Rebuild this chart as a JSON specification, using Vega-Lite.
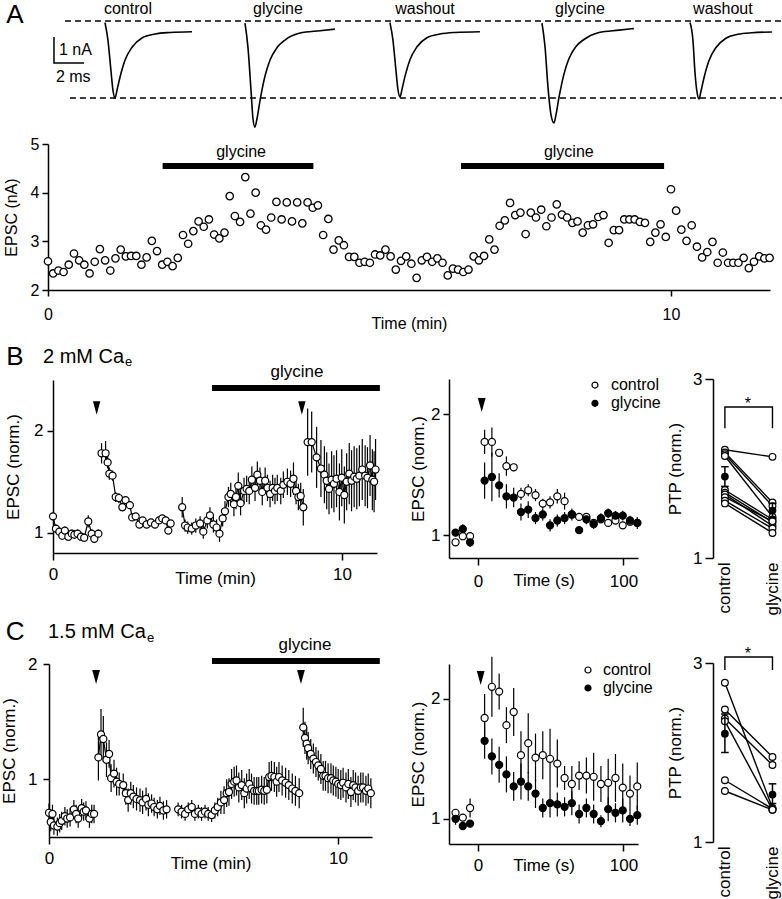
{
"$schema":"https://vega.github.io/schema/vega-lite/v6.json",
"width":782,"height":899,"autosize":{"type":"none"},"padding":0,"background":"white",
"config":{"view":{"stroke":null},"font":"Liberation Sans",
"axis":{"labelFont":"Liberation Sans","titleFont":"Liberation Sans","labelFontSize":17,"titleFontSize":17,"titleFontWeight":"normal","labelColor":"black","titleColor":"black","domainColor":"black","tickColor":"black","domainWidth":1.5,"tickWidth":1.5,"tickSize":6,"labelPadding":3,"grid":false,"labelFlush":false,"labelOverlap":false},
"text":{"font":"Liberation Sans","color":"black"}},
"resolve":{"scale":{"x":"independent","y":"independent","fill":"independent"},"axis":{"x":"independent","y":"independent"}},
"layer":[
{"layer":[
 {"data":{"values":[{"k":"a","x":4.32,"y":0},{"k":"a","x":52,"y":0},{"k":"b","x":4.65,"y":-2.96},{"k":"b","x":52,"y":-2.96}]},
  "mark":{"type":"line","color":"black","strokeWidth":1.5,"strokeDash":[6,4]},
  "encoding":{"x":{"field":"x","type":"quantitative","scale":{"domain":[0,52],"range":[0,782],"nice":false,"zero":false},"axis":null},"y":{"field":"y","type":"quantitative","scale":{"domain":[-4.73,0.81],"range":[144,0],"nice":false,"zero":false},"axis":null},"detail":{"field":"k"}}},
 {"data":{"values":[
  {"tr":"c1","x":6.98,"y":-0.06},{"tr":"c1","x":7.18,"y":-0.74},{"tr":"c1","x":7.38,"y":-1.92},{"tr":"c1","x":7.51,"y":-2.66},{"tr":"c1","x":7.65,"y":-2.96},{"tr":"c1","x":7.78,"y":-2.66},{"tr":"c1","x":7.98,"y":-2.16},{"tr":"c1","x":8.31,"y":-1.51},{"tr":"c1","x":8.78,"y":-1.01},{"tr":"c1","x":9.44,"y":-0.65},{"tr":"c1","x":10.31,"y":-0.5},{"tr":"c1","x":11.3,"y":-0.44},{"tr":"c1","x":12.77,"y":-0.41},
  {"tr":"g1","x":16.29,"y":-0.08},{"tr":"g1","x":16.49,"y":-1.02},{"tr":"g1","x":16.69,"y":-2.65},{"tr":"g1","x":16.82,"y":-3.75},{"tr":"g1","x":16.95,"y":-4.08},{"tr":"g1","x":17.09,"y":-3.75},{"tr":"g1","x":17.29,"y":-3.06},{"tr":"g1","x":17.62,"y":-2.12},{"tr":"g1","x":17.95,"y":-1.51},{"tr":"g1","x":18.42,"y":-1.02},{"tr":"g1","x":18.95,"y":-0.73},{"tr":"g1","x":19.95,"y":-0.46},{"tr":"g1","x":21.28,"y":-0.37},{"tr":"g1","x":22.27,"y":-0.31},
  {"tr":"w1","x":25.93,"y":-0.06},{"tr":"w1","x":26.13,"y":-0.73},{"tr":"w1","x":26.33,"y":-1.9},{"tr":"w1","x":26.46,"y":-2.63},{"tr":"w1","x":26.6,"y":-2.92},{"tr":"w1","x":26.73,"y":-2.63},{"tr":"w1","x":26.93,"y":-2.13},{"tr":"w1","x":27.26,"y":-1.49},{"tr":"w1","x":27.73,"y":-0.99},{"tr":"w1","x":28.39,"y":-0.64},{"tr":"w1","x":29.26,"y":-0.5},{"tr":"w1","x":30.25,"y":-0.44},{"tr":"w1","x":31.91,"y":-0.41},
  {"tr":"g2","x":36.04,"y":-0.08},{"tr":"g2","x":36.24,"y":-0.98},{"tr":"g2","x":36.44,"y":-2.55},{"tr":"g2","x":36.64,"y":-3.61},{"tr":"g2","x":36.84,"y":-3.92},{"tr":"g2","x":36.97,"y":-3.61},{"tr":"g2","x":37.17,"y":-2.94},{"tr":"g2","x":37.5,"y":-2.04},{"tr":"g2","x":37.83,"y":-1.45},{"tr":"g2","x":38.3,"y":-0.98},{"tr":"g2","x":38.83,"y":-0.71},{"tr":"g2","x":39.83,"y":-0.44},{"tr":"g2","x":41.16,"y":-0.35},{"tr":"g2","x":42.15,"y":-0.29},
  {"tr":"w2","x":45.88,"y":-0.06},{"tr":"w2","x":46.08,"y":-0.75},{"tr":"w2","x":46.21,"y":-1.95},{"tr":"w2","x":46.34,"y":-2.7},{"tr":"w2","x":46.48,"y":-3.0},{"tr":"w2","x":46.61,"y":-2.7},{"tr":"w2","x":46.81,"y":-2.19},{"tr":"w2","x":47.14,"y":-1.53},{"tr":"w2","x":47.61,"y":-1.02},{"tr":"w2","x":48.27,"y":-0.66},{"tr":"w2","x":49.07,"y":-0.51},{"tr":"w2","x":50.0,"y":-0.45},{"tr":"w2","x":51.33,"y":-0.42}]},
  "mark":{"type":"line","color":"black","strokeWidth":1.6,"interpolate":"monotone"},
  "encoding":{"x":{"field":"x","type":"quantitative"},"y":{"field":"y","type":"quantitative"},"detail":{"field":"tr"}}},
 {"data":{"values":[{"o":1,"x":3.59,"y":-0.61},{"o":2,"x":3.59,"y":-1.61},{"o":3,"x":5.59,"y":-1.61}]},
  "mark":{"type":"line","color":"black","strokeWidth":1.5},
  "encoding":{"x":{"field":"x","type":"quantitative"},"y":{"field":"y","type":"quantitative"},"order":{"field":"o"}}},
 {"data":{"values":[{"x":8.51,"y":0.46,"label":"control"},{"x":18.48,"y":0.46,"label":"glycine"},{"x":28.26,"y":0.46,"label":"washout"},{"x":38.56,"y":0.46,"label":"glycine"},{"x":48.07,"y":0.46,"label":"washout"}]},
  "mark":{"type":"text","fontSize":16,"align":"center","baseline":"middle","color":"black"},
  "encoding":{"x":{"field":"x","type":"quantitative"},"y":{"field":"y","type":"quantitative"},"text":{"field":"label"}}},
 {"data":{"values":[{"x":3.92,"y":-1.11,"label":"1 nA"},{"x":3.72,"y":-2.15,"label":"2 ms"}]},
  "mark":{"type":"text","fontSize":16,"align":"left","baseline":"middle","color":"black"},
  "encoding":{"x":{"field":"x","type":"quantitative"},"y":{"field":"y","type":"quantitative"},"text":{"field":"label"}}},
 {"data":{"values":[{"x":1.0,"y":0.23,"label":"A"}]},
  "mark":{"type":"text","fontSize":26,"align":"center","baseline":"middle","color":"black"},
  "encoding":{"x":{"field":"x","type":"quantitative"},"y":{"field":"y","type":"quantitative"},"text":{"field":"label"}}}
]},
{"layer":[
 {"data":{"values":[
 {"t":0,"v":2.59},{"t":0.083,"v":2.34},{"t":0.167,"v":2.4},{"t":0.25,"v":2.37},{"t":0.333,"v":2.52},{"t":0.417,"v":2.75},{"t":0.5,"v":2.61},{"t":0.583,"v":2.52},{"t":0.667,"v":2.34},{"t":0.75,"v":2.58},{"t":0.833,"v":2.84},{"t":0.917,"v":2.61},
 {"t":1,"v":2.4},{"t":1.083,"v":2.65},{"t":1.167,"v":2.83},{"t":1.25,"v":2.69},{"t":1.333,"v":2.7},{"t":1.417,"v":2.7},{"t":1.5,"v":2.52},{"t":1.583,"v":2.67},{"t":1.667,"v":3.01},{"t":1.75,"v":2.8},{"t":1.833,"v":2.52},{"t":1.917,"v":2.58},
 {"t":2,"v":2.49},{"t":2.083,"v":2.66},{"t":2.167,"v":3.13},{"t":2.25,"v":2.95},{"t":2.333,"v":3.21},{"t":2.417,"v":3.41},{"t":2.5,"v":3.3},{"t":2.583,"v":3.45},{"t":2.667,"v":3.14},{"t":2.75,"v":3.06},{"t":2.833,"v":3.18},{"t":2.917,"v":3.93},
 {"t":3,"v":3.52},{"t":3.083,"v":3.4},{"t":3.167,"v":4.32},{"t":3.25,"v":3.57},{"t":3.333,"v":4.0},{"t":3.417,"v":3.33},{"t":3.5,"v":3.24},{"t":3.583,"v":3.49},{"t":3.667,"v":3.81},{"t":3.75,"v":3.45},{"t":3.833,"v":3.8},{"t":3.917,"v":3.41},
 {"t":4,"v":3.8},{"t":4.083,"v":3.37},{"t":4.167,"v":3.8},{"t":4.25,"v":3.69},{"t":4.333,"v":3.74},{"t":4.417,"v":3.13},{"t":4.5,"v":3.46},{"t":4.583,"v":2.83},{"t":4.667,"v":3.02},{"t":4.75,"v":2.92},{"t":4.833,"v":2.68},{"t":4.917,"v":2.68},
 {"t":5,"v":2.56},{"t":5.083,"v":2.58},{"t":5.167,"v":2.56},{"t":5.25,"v":2.73},{"t":5.333,"v":2.71},{"t":5.417,"v":2.83},{"t":5.5,"v":2.69},{"t":5.583,"v":2.42},{"t":5.667,"v":2.6},{"t":5.75,"v":2.69},{"t":5.833,"v":2.54},{"t":5.917,"v":2.25},
 {"t":6,"v":2.61},{"t":6.083,"v":2.68},{"t":6.167,"v":2.58},{"t":6.25,"v":2.65},{"t":6.333,"v":2.56},{"t":6.417,"v":2.3},{"t":6.5,"v":2.44},{"t":6.583,"v":2.42},{"t":6.667,"v":2.37},{"t":6.75,"v":2.42},{"t":6.833,"v":2.69},{"t":6.917,"v":2.61},
 {"t":7,"v":2.7},{"t":7.083,"v":3.04},{"t":7.167,"v":2.83},{"t":7.25,"v":3.32},{"t":7.333,"v":3.43},{"t":7.417,"v":3.79},{"t":7.5,"v":3.54},{"t":7.583,"v":3.59},{"t":7.667,"v":3.15},{"t":7.75,"v":3.59},{"t":7.833,"v":3.49},{"t":7.917,"v":3.65},
 {"t":8,"v":3.31},{"t":8.083,"v":3.49},{"t":8.167,"v":3.76},{"t":8.25,"v":3.55},{"t":8.333,"v":3.49},{"t":8.417,"v":3.38},{"t":8.5,"v":3.41},{"t":8.583,"v":3.18},{"t":8.667,"v":3.33},{"t":8.75,"v":3.35},{"t":8.833,"v":3.5},{"t":8.917,"v":3.54},
 {"t":9,"v":2.97},{"t":9.083,"v":3.23},{"t":9.167,"v":3.23},{"t":9.25,"v":3.45},{"t":9.333,"v":3.45},{"t":9.417,"v":3.45},{"t":9.5,"v":3.4},{"t":9.583,"v":3.38},{"t":9.667,"v":2.99},{"t":9.75,"v":3.18},{"t":9.833,"v":3.35},{"t":9.917,"v":3.09},
 {"t":10,"v":4.07},{"t":10.083,"v":3.63},{"t":10.167,"v":3.24},{"t":10.25,"v":3.01},{"t":10.333,"v":3.33},{"t":10.417,"v":2.89},{"t":10.5,"v":2.67},{"t":10.583,"v":2.78},{"t":10.667,"v":2.99},{"t":10.75,"v":2.56},{"t":10.833,"v":2.77},{"t":10.917,"v":2.56},
 {"t":11,"v":2.56},{"t":11.083,"v":2.56},{"t":11.167,"v":2.66},{"t":11.25,"v":2.45},{"t":11.333,"v":2.58},{"t":11.417,"v":2.69},{"t":11.5,"v":2.65},{"t":11.583,"v":2.66}]},
  "mark":{"type":"point","shape":"circle","filled":true,"fill":"white","stroke":"black","strokeWidth":1.3,"size":55,"opacity":1},
  "encoding":{"x":{"field":"t","type":"quantitative","scale":{"domain":[0,11.59],"range":[48,770],"nice":false,"zero":false},"axis":{"orient":"bottom","offset":-609,"values":[0,10],"format":"d","title":"Time (min)","labelFontSize":16,"titleFontSize":16,"tickSize":6,"labelPadding":10,"titlePadding":-6.5}},
   "y":{"field":"v","type":"quantitative","scale":{"domain":[2,5],"range":[290,144],"nice":false,"zero":false},"axis":{"orient":"left","offset":-48,"values":[2,3,4,5],"format":"d","title":"EPSC (nA)","labelFontSize":16,"titleFontSize":16,"tickSize":6,"labelPadding":3,"titlePadding":11}}}},
 {"data":{"values":[{"x1":1.84,"x2":4.26,"y":4.55},{"x1":6.63,"x2":9.89,"y":4.55}]},
  "mark":{"type":"rule","color":"black","strokeWidth":6},
  "encoding":{"x":{"field":"x1","type":"quantitative"},"x2":{"field":"x2"},"y":{"field":"y","type":"quantitative"}}},
 {"data":{"values":[{"x":3.1,"y":4.836,"label":"glycine"},{"x":8.36,"y":4.836,"label":"glycine"}]},
  "mark":{"type":"text","fontSize":16,"align":"center","baseline":"middle","color":"black"},
  "encoding":{"x":{"field":"x","type":"quantitative"},"y":{"field":"y","type":"quantitative"},"text":{"field":"label"}}}
]},
{"data":{"values":[
 {"g":1,"t":0,"v":1.16,"lo":1.12,"hi":1.2},{"g":1,"t":0.1,"v":1.04,"lo":1.0,"hi":1.08},{"g":1,"t":0.22,"v":1.01,"lo":0.97,"hi":1.05},{"g":1,"t":0.32,"v":0.97,"lo":0.93,"hi":1.01},{"g":1,"t":0.41,"v":1.02,"lo":0.98,"hi":1.06},{"g":1,"t":0.53,"v":0.96,"lo":0.92,"hi":1.0},{"g":1,"t":0.65,"v":0.99,"lo":0.95,"hi":1.03},{"g":1,"t":0.74,"v":0.98,"lo":0.94,"hi":1.02},{"g":1,"t":0.85,"v":0.99,"lo":0.95,"hi":1.03},{"g":1,"t":0.97,"v":0.96,"lo":0.92,"hi":1.0},{"g":1,"t":1.08,"v":0.95,"lo":0.91,"hi":0.99},{"g":1,"t":1.22,"v":1.11,"lo":1.05,"hi":1.17},{"g":1,"t":1.34,"v":0.99,"lo":0.95,"hi":1.03},{"g":1,"t":1.43,"v":0.94,"lo":0.9,"hi":0.98},{"g":1,"t":1.57,"v":0.99,"lo":0.95,"hi":1.03},
 {"g":2,"t":1.68,"v":1.78,"lo":1.68,"hi":1.88},{"g":2,"t":1.82,"v":1.78,"lo":1.66,"hi":1.9},{"g":2,"t":1.89,"v":1.69,"lo":1.63,"hi":1.75},{"g":2,"t":1.95,"v":1.58,"lo":1.52,"hi":1.64},{"g":2,"t":2.06,"v":1.56,"lo":1.51,"hi":1.61},{"g":2,"t":2.17,"v":1.35,"lo":1.3,"hi":1.4},{"g":2,"t":2.28,"v":1.34,"lo":1.29,"hi":1.39},{"g":2,"t":2.4,"v":1.25,"lo":1.21,"hi":1.29},{"g":2,"t":2.51,"v":1.32,"lo":1.28,"hi":1.36},{"g":2,"t":2.66,"v":1.27,"lo":1.23,"hi":1.31},{"g":2,"t":2.74,"v":1.15,"lo":1.12,"hi":1.18},{"g":2,"t":2.86,"v":1.16,"lo":1.13,"hi":1.19},{"g":2,"t":2.99,"v":1.08,"lo":1.05,"hi":1.11},{"g":2,"t":3.1,"v":1.12,"lo":1.09,"hi":1.15},{"g":2,"t":3.24,"v":1.08,"lo":1.05,"hi":1.11},{"g":2,"t":3.39,"v":1.1,"lo":1.07,"hi":1.13},{"g":2,"t":3.53,"v":1.08,"lo":1.05,"hi":1.11},{"g":2,"t":3.67,"v":1.12,"lo":1.09,"hi":1.15},{"g":2,"t":3.78,"v":1.14,"lo":1.11,"hi":1.17},{"g":2,"t":3.9,"v":1.12,"lo":1.09,"hi":1.15},{"g":2,"t":3.99,"v":1.02,"lo":0.99,"hi":1.05},{"g":2,"t":4.07,"v":1.09,"lo":1.06,"hi":1.12},
 {"g":3,"t":4.47,"v":1.25,"lo":1.15,"hi":1.35},{"g":3,"t":4.57,"v":1.07,"lo":1.01,"hi":1.13},{"g":3,"t":4.66,"v":1.05,"lo":0.99,"hi":1.11},{"g":3,"t":4.8,"v":1.04,"lo":0.98,"hi":1.1},{"g":3,"t":4.94,"v":1.07,"lo":1.0,"hi":1.14},{"g":3,"t":5.09,"v":1.09,"lo":1.02,"hi":1.16},{"g":3,"t":5.2,"v":1.01,"lo":0.94,"hi":1.08},{"g":3,"t":5.34,"v":1.12,"lo":1.04,"hi":1.2},{"g":3,"t":5.43,"v":1.17,"lo":1.09,"hi":1.25},{"g":3,"t":5.55,"v":1.08,"lo":1.0,"hi":1.16},{"g":3,"t":5.66,"v":1.05,"lo":0.97,"hi":1.13},{"g":3,"t":5.76,"v":0.99,"lo":0.91,"hi":1.07},{"g":3,"t":5.87,"v":1.14,"lo":1.06,"hi":1.22},{"g":3,"t":5.95,"v":1.21,"lo":1.11,"hi":1.31},{"g":3,"t":6.07,"v":1.35,"lo":1.25,"hi":1.45},{"g":3,"t":6.15,"v":1.38,"lo":1.27,"hi":1.49},{"g":3,"t":6.26,"v":1.28,"lo":1.16,"hi":1.4},{"g":3,"t":6.33,"v":1.35,"lo":1.23,"hi":1.47},{"g":3,"t":6.41,"v":1.46,"lo":1.33,"hi":1.59},{"g":3,"t":6.49,"v":1.29,"lo":1.17,"hi":1.41},{"g":3,"t":6.61,"v":1.41,"lo":1.28,"hi":1.54},{"g":3,"t":6.7,"v":1.43,"lo":1.3,"hi":1.56},{"g":3,"t":6.79,"v":1.41,"lo":1.28,"hi":1.54},{"g":3,"t":6.88,"v":1.52,"lo":1.39,"hi":1.65},{"g":3,"t":6.99,"v":1.44,"lo":1.31,"hi":1.57},{"g":3,"t":7.07,"v":1.57,"lo":1.44,"hi":1.7},{"g":3,"t":7.16,"v":1.51,"lo":1.38,"hi":1.64},{"g":3,"t":7.24,"v":1.4,"lo":1.27,"hi":1.53},{"g":3,"t":7.34,"v":1.51,"lo":1.38,"hi":1.64},{"g":3,"t":7.42,"v":1.44,"lo":1.31,"hi":1.57},{"g":3,"t":7.51,"v":1.38,"lo":1.25,"hi":1.51},{"g":3,"t":7.6,"v":1.44,"lo":1.31,"hi":1.57},{"g":3,"t":7.68,"v":1.41,"lo":1.28,"hi":1.54},{"g":3,"t":7.76,"v":1.44,"lo":1.31,"hi":1.57},{"g":3,"t":7.88,"v":1.41,"lo":1.28,"hi":1.54},{"g":3,"t":7.97,"v":1.47,"lo":1.34,"hi":1.6},{"g":3,"t":8.11,"v":1.5,"lo":1.37,"hi":1.63},{"g":3,"t":8.22,"v":1.48,"lo":1.35,"hi":1.61},{"g":3,"t":8.32,"v":1.53,"lo":1.37,"hi":1.69},{"g":3,"t":8.41,"v":1.41,"lo":1.28,"hi":1.54},{"g":3,"t":8.49,"v":1.35,"lo":1.22,"hi":1.48},{"g":3,"t":8.57,"v":1.36,"lo":1.23,"hi":1.49},{"g":3,"t":8.66,"v":1.25,"lo":1.07,"hi":1.43},
 {"g":4,"t":8.81,"v":1.89,"lo":1.56,"hi":2.22},{"g":4,"t":8.95,"v":1.89,"lo":1.59,"hi":2.19},{"g":4,"t":9.12,"v":1.74,"lo":1.44,"hi":2.04},{"g":4,"t":9.27,"v":1.63,"lo":1.35,"hi":1.91},{"g":4,"t":9.39,"v":1.57,"lo":1.29,"hi":1.85},{"g":4,"t":9.47,"v":1.51,"lo":1.23,"hi":1.79},{"g":4,"t":9.55,"v":1.43,"lo":1.18,"hi":1.68},{"g":4,"t":9.64,"v":1.52,"lo":1.24,"hi":1.8},{"g":4,"t":9.72,"v":1.48,"lo":1.2,"hi":1.76},{"g":4,"t":9.81,"v":1.53,"lo":1.25,"hi":1.81},{"g":4,"t":9.91,"v":1.4,"lo":1.12,"hi":1.68},{"g":4,"t":9.99,"v":1.54,"lo":1.26,"hi":1.82},{"g":4,"t":10.08,"v":1.37,"lo":1.09,"hi":1.65},{"g":4,"t":10.16,"v":1.5,"lo":1.22,"hi":1.78},{"g":4,"t":10.25,"v":1.58,"lo":1.28,"hi":1.88},{"g":4,"t":10.33,"v":1.51,"lo":1.21,"hi":1.81},{"g":4,"t":10.42,"v":1.55,"lo":1.25,"hi":1.85},{"g":4,"t":10.51,"v":1.53,"lo":1.23,"hi":1.83},{"g":4,"t":10.6,"v":1.56,"lo":1.26,"hi":1.86},{"g":4,"t":10.7,"v":1.62,"lo":1.32,"hi":1.92},{"g":4,"t":10.8,"v":1.56,"lo":1.26,"hi":1.86},{"g":4,"t":10.88,"v":1.54,"lo":1.24,"hi":1.84},{"g":4,"t":10.97,"v":1.66,"lo":1.36,"hi":1.96},{"g":4,"t":11.05,"v":1.52,"lo":1.22,"hi":1.82},{"g":4,"t":11.11,"v":1.5,"lo":1.2,"hi":1.8},{"g":4,"t":11.16,"v":1.62,"lo":1.32,"hi":1.92}]},
 "layer":[
  {"mark":{"type":"rule","color":"black","strokeWidth":1.2},
   "encoding":{"x":{"field":"t","type":"quantitative","scale":{"domain":[0,11.21],"range":[53,377],"nice":false,"zero":false},"axis":{"orient":"bottom","offset":-346,"values":[0,10],"format":"d","title":"Time (min)","tickSize":7,"labelPadding":6.5,"titlePadding":-12.5}},
    "y":{"field":"lo","type":"quantitative","scale":{"domain":[0.8,2.5],"range":[553,380],"nice":false,"zero":false},"axis":{"orient":"left","offset":-53,"values":[1,2],"format":"d","title":"EPSC (norm.)","labelPadding":4,"titlePadding":11}},"y2":{"field":"hi"}}},
  {"mark":{"type":"line","color":"black","strokeWidth":1.2},"encoding":{"x":{"field":"t","type":"quantitative"},"y":{"field":"v","type":"quantitative"},"detail":{"field":"g"}}},
  {"mark":{"type":"point","shape":"circle","filled":true,"fill":"white","stroke":"black","strokeWidth":1.2,"size":50,"opacity":1},"encoding":{"x":{"field":"t","type":"quantitative"},"y":{"field":"v","type":"quantitative"}}},
  {"data":{"values":[{"x1":5.5,"x2":11.31,"y":2.421}]},"mark":{"type":"rule","color":"black","strokeWidth":6},"encoding":{"x":{"field":"x1","type":"quantitative"},"x2":{"field":"x2"},"y":{"field":"y","type":"quantitative"}}},
  {"data":{"values":[{"x":8.44,"y":2.579,"label":"glycine"}]},"mark":{"type":"text","fontSize":17,"align":"center","baseline":"middle"},"encoding":{"x":{"field":"x","type":"quantitative"},"y":{"field":"y","type":"quantitative"},"text":{"field":"label"}}},
  {"data":{"values":[{"x":-1.315,"y":2.726,"label":"B"}]},"mark":{"type":"text","fontSize":26,"align":"center","baseline":"middle"},"encoding":{"x":{"field":"x","type":"quantitative"},"y":{"field":"y","type":"quantitative"},"text":{"field":"label"}}},
  {"data":{"values":[{"x":-0.346,"y":2.726,"label":"2 mM Ca"}]},"mark":{"type":"text","fontSize":20,"align":"left","baseline":"middle"},"encoding":{"x":{"field":"x","type":"quantitative"},"y":{"field":"y","type":"quantitative"},"text":{"field":"label"}}},
  {"data":{"values":[{"x":2.49,"y":2.677,"label":"e"}]},"mark":{"type":"text","fontSize":13,"align":"left","baseline":"middle"},"encoding":{"x":{"field":"x","type":"quantitative"},"y":{"field":"y","type":"quantitative"},"text":{"field":"label"}}},
  {"data":{"values":[{"x":1.51,"y":2.225},{"x":8.61,"y":2.225}]},"mark":{"type":"point","shape":"M-0.55,-1L0.55,-1L0,1Z","filled":true,"color":"black","size":180,"opacity":1},"encoding":{"x":{"field":"x","type":"quantitative"},"y":{"field":"y","type":"quantitative"}}}
 ]},
{"data":{"values":[
 {"s":"control","t":-15.5,"v":0.94,"lo":0.91,"hi":0.97},{"s":"control","t":-10.5,"v":0.99,"lo":0.96,"hi":1.02},{"s":"control","t":-5.5,"v":0.99,"lo":0.96,"hi":1.02},{"s":"control","t":4.5,"v":1.77,"lo":1.67,"hi":1.87},{"s":"control","t":9.5,"v":1.77,"lo":1.65,"hi":1.89},{"s":"control","t":14.5,"v":1.68,"lo":1.65,"hi":1.71},{"s":"control","t":19.5,"v":1.57,"lo":1.49,"hi":1.65},{"s":"control","t":24.5,"v":1.56,"lo":1.53,"hi":1.59},{"s":"control","t":29.5,"v":1.34,"lo":1.29,"hi":1.39},{"s":"control","t":34.5,"v":1.37,"lo":1.32,"hi":1.42},{"s":"control","t":39.5,"v":1.33,"lo":1.28,"hi":1.38},{"s":"control","t":44.5,"v":1.26,"lo":1.22,"hi":1.3},{"s":"control","t":49.5,"v":1.27,"lo":1.22,"hi":1.32},{"s":"control","t":54.5,"v":1.32,"lo":1.26,"hi":1.38},{"s":"control","t":59.5,"v":1.28,"lo":1.21,"hi":1.35},{"s":"control","t":64.5,"v":1.17,"lo":1.14,"hi":1.2},{"s":"control","t":69.5,"v":1.15,"lo":1.12,"hi":1.18},{"s":"control","t":74.5,"v":1.15,"lo":1.12,"hi":1.18},{"s":"control","t":79.5,"v":1.1,"lo":1.07,"hi":1.13},{"s":"control","t":84.5,"v":1.13,"lo":1.1,"hi":1.16},{"s":"control","t":89.5,"v":1.1,"lo":1.07,"hi":1.13},{"s":"control","t":94.5,"v":1.12,"lo":1.09,"hi":1.15},{"s":"control","t":99.5,"v":1.08,"lo":1.05,"hi":1.11},{"s":"control","t":104.5,"v":1.11,"lo":1.08,"hi":1.14},{"s":"control","t":109.5,"v":1.1,"lo":1.07,"hi":1.13},
 {"s":"glycine","t":-15.5,"v":1.02,"lo":0.99,"hi":1.05},{"s":"glycine","t":-10.5,"v":1.05,"lo":1.01,"hi":1.09},{"s":"glycine","t":-5.5,"v":0.94,"lo":0.9,"hi":0.98},{"s":"glycine","t":4.5,"v":1.45,"lo":1.3,"hi":1.6},{"s":"glycine","t":9.5,"v":1.48,"lo":1.28,"hi":1.68},{"s":"glycine","t":14.5,"v":1.41,"lo":1.31,"hi":1.51},{"s":"glycine","t":19.5,"v":1.32,"lo":1.22,"hi":1.42},{"s":"glycine","t":24.5,"v":1.31,"lo":1.23,"hi":1.39},{"s":"glycine","t":29.5,"v":1.19,"lo":1.12,"hi":1.26},{"s":"glycine","t":34.5,"v":1.21,"lo":1.14,"hi":1.28},{"s":"glycine","t":39.5,"v":1.14,"lo":1.09,"hi":1.19},{"s":"glycine","t":44.5,"v":1.17,"lo":1.12,"hi":1.22},{"s":"glycine","t":49.5,"v":1.08,"lo":1.03,"hi":1.13},{"s":"glycine","t":54.5,"v":1.12,"lo":1.07,"hi":1.17},{"s":"glycine","t":59.5,"v":1.14,"lo":1.09,"hi":1.19},{"s":"glycine","t":64.5,"v":1.17,"lo":1.12,"hi":1.22},{"s":"glycine","t":69.5,"v":1.04,"lo":1.01,"hi":1.07},{"s":"glycine","t":74.5,"v":1.13,"lo":1.09,"hi":1.17},{"s":"glycine","t":79.5,"v":1.09,"lo":1.05,"hi":1.13},{"s":"glycine","t":84.5,"v":1.14,"lo":1.1,"hi":1.18},{"s":"glycine","t":89.5,"v":1.18,"lo":1.14,"hi":1.22},{"s":"glycine","t":94.5,"v":1.16,"lo":1.12,"hi":1.2},{"s":"glycine","t":99.5,"v":1.16,"lo":1.12,"hi":1.2},{"s":"glycine","t":104.5,"v":1.12,"lo":1.08,"hi":1.16},{"s":"glycine","t":109.5,"v":1.1,"lo":1.05,"hi":1.15}]},
 "layer":[
  {"mark":{"type":"rule","color":"black","strokeWidth":1.2},
   "encoding":{"x":{"field":"t","type":"quantitative","scale":{"domain":[-20,110],"range":[449,638],"nice":false,"zero":false},"axis":{"orient":"bottom","offset":-341,"values":[0,100],"format":"d","title":"Time (s)","tickSize":7,"labelPadding":8.5,"titlePadding":-17.5}},
    "y":{"field":"lo","type":"quantitative","scale":{"domain":[0.81,2.29],"range":[558,379],"nice":false,"zero":false},"axis":{"orient":"left","offset":-449,"values":[1,2],"format":"d","title":"EPSC (norm.)","labelPadding":3,"titlePadding":3}},"y2":{"field":"hi"}}},
  {"mark":{"type":"point","shape":"circle","filled":true,"stroke":"black","strokeWidth":1.2,"size":50,"opacity":1},
   "encoding":{"x":{"field":"t","type":"quantitative"},"y":{"field":"v","type":"quantitative"},"fill":{"field":"s","type":"nominal","scale":{"domain":["control","glycine"],"range":["white","black"]},"legend":null}}},
  {"data":{"values":[{"x":80.4,"y":2.24,"s":"control"},{"x":80.4,"y":2.089,"s":"glycine"}]},"mark":{"type":"point","shape":"circle","filled":true,"stroke":"black","strokeWidth":1.2,"size":36,"opacity":1},
   "encoding":{"x":{"field":"x","type":"quantitative"},"y":{"field":"y","type":"quantitative"},"fill":{"field":"s","type":"nominal","legend":null}}},
  {"data":{"values":[{"x":91.4,"y":2.24,"label":"control"},{"x":91.4,"y":2.089,"label":"glycine"}]},"mark":{"type":"text","fontSize":16,"align":"left","baseline":"middle"},"encoding":{"x":{"field":"x","type":"quantitative"},"y":{"field":"y","type":"quantitative"},"text":{"field":"label"}}},
  {"data":{"values":[{"x":2.5,"y":2.075}]},"mark":{"type":"point","shape":"M-0.55,-1L0.55,-1L0,1Z","filled":true,"color":"black","size":200,"opacity":1},"encoding":{"x":{"field":"x","type":"quantitative"},"y":{"field":"y","type":"quantitative"}}}
 ]},
{"data":{"values":[
 {"p":1,"c":0,"v":2.21},{"p":1,"c":1,"v":2.13},{"p":2,"c":0,"v":2.18},{"p":2,"c":1,"v":1.62},{"p":3,"c":0,"v":2.16},{"p":3,"c":1,"v":1.58},{"p":4,"c":0,"v":2.14},{"p":4,"c":1,"v":1.46},{"p":5,"c":0,"v":1.76},{"p":5,"c":1,"v":1.43},{"p":6,"c":0,"v":1.73},{"p":6,"c":1,"v":1.4},{"p":7,"c":0,"v":1.71},{"p":7,"c":1,"v":1.36},{"p":8,"c":0,"v":1.68},{"p":8,"c":1,"v":1.41},{"p":9,"c":0,"v":1.64},{"p":9,"c":1,"v":1.33},{"p":10,"c":0,"v":1.61},{"p":10,"c":1,"v":1.28}]},
 "layer":[
  {"mark":{"type":"line","color":"black","strokeWidth":1.4},
   "encoding":{"x":{"field":"c","type":"quantitative","scale":{"domain":[-0.25,1.2],"range":[713,782],"nice":false,"zero":false},"axis":{"orient":"bottom","offset":-341,"values":[0,1],"labelExpr":"datum.value == 0 ? 'control' : 'glycine'","labelAngle":-90,"ticks":false,"tickSize":0,"domain":false,"labelPadding":4,"title":null}},
    "y":{"field":"v","type":"quantitative","scale":{"domain":[1,3],"range":[558,379],"nice":false,"zero":false},"axis":{"orient":"left","offset":-713,"values":[1,2,3],"format":"d","title":"PTP (norm.)","tickSize":8,"labelPadding":3,"titlePadding":8.5}},"detail":{"field":"p"}}},
  {"mark":{"type":"point","shape":"circle","filled":true,"fill":"white","stroke":"black","strokeWidth":1.2,"size":45,"opacity":1},"encoding":{"x":{"field":"c","type":"quantitative"},"y":{"field":"v","type":"quantitative"}}},
  {"data":{"values":[{"c":0,"lo":1.8,"hi":2.02},{"c":1,"lo":1.45,"hi":1.61}]},"mark":{"type":"rule","color":"black","strokeWidth":1.5},"encoding":{"x":{"field":"c","type":"quantitative"},"y":{"field":"lo","type":"quantitative"},"y2":{"field":"hi"}}},
  {"data":{"values":[{"x1":-0.08,"x2":0.08,"y":1.8},{"x1":-0.08,"x2":0.08,"y":2.02},{"x1":0.92,"x2":1.08,"y":1.45},{"x1":0.92,"x2":1.08,"y":1.61}]},"mark":{"type":"rule","color":"black","strokeWidth":1.5},"encoding":{"x":{"field":"x1","type":"quantitative"},"x2":{"field":"x2"},"y":{"field":"y","type":"quantitative"}}},
  {"data":{"values":[{"c":0,"m":1.91},{"c":1,"m":1.53}]},"mark":{"type":"point","shape":"circle","filled":true,"color":"black","size":60,"opacity":1},"encoding":{"x":{"field":"c","type":"quantitative"},"y":{"field":"m","type":"quantitative"}}},
  {"data":{"values":[{"o":1,"x":0,"y":2.45},{"o":2,"x":0,"y":2.687},{"o":3,"x":1,"y":2.687},{"o":4,"x":1,"y":2.45}]},"mark":{"type":"line","color":"black","strokeWidth":1.4},"encoding":{"x":{"field":"x","type":"quantitative"},"y":{"field":"y","type":"quantitative"},"order":{"field":"o"}}},
  {"data":{"values":[{"x":0.485,"y":2.665,"label":"*"}]},"mark":{"type":"text","fontSize":16,"align":"center","baseline":"alphabetic"},"encoding":{"x":{"field":"x","type":"quantitative"},"y":{"field":"y","type":"quantitative"},"text":{"field":"label"}}}
 ]},
{"data":{"values":[
 {"g":1,"t":0,"v":0.71,"lo":0.63,"hi":0.79},{"g":1,"t":0.06,"v":0.63,"lo":0.55,"hi":0.71},{"g":1,"t":0.12,"v":0.7,"lo":0.62,"hi":0.78},{"g":1,"t":0.17,"v":0.6,"lo":0.52,"hi":0.68},{"g":1,"t":0.29,"v":0.59,"lo":0.51,"hi":0.67},{"g":1,"t":0.37,"v":0.62,"lo":0.54,"hi":0.7},{"g":1,"t":0.44,"v":0.64,"lo":0.56,"hi":0.72},{"g":1,"t":0.55,"v":0.68,"lo":0.6,"hi":0.76},{"g":1,"t":0.63,"v":0.66,"lo":0.58,"hi":0.74},{"g":1,"t":0.73,"v":0.67,"lo":0.59,"hi":0.75},{"g":1,"t":0.86,"v":0.74,"lo":0.66,"hi":0.82},{"g":1,"t":0.94,"v":0.7,"lo":0.62,"hi":0.78},{"g":1,"t":1.01,"v":0.66,"lo":0.58,"hi":0.74},{"g":1,"t":1.13,"v":0.75,"lo":0.67,"hi":0.83},{"g":1,"t":1.2,"v":0.72,"lo":0.64,"hi":0.8},{"g":1,"t":1.28,"v":0.73,"lo":0.65,"hi":0.81},{"g":1,"t":1.4,"v":0.66,"lo":0.58,"hi":0.74},{"g":1,"t":1.48,"v":0.7,"lo":0.62,"hi":0.78},{"g":1,"t":1.56,"v":0.7,"lo":0.62,"hi":0.78},
 {"g":2,"t":1.71,"v":1.19,"lo":0.99,"hi":1.39},{"g":2,"t":1.8,"v":1.39,"lo":1.17,"hi":1.61},{"g":2,"t":1.88,"v":1.35,"lo":1.15,"hi":1.55},{"g":2,"t":1.99,"v":1.17,"lo":1.02,"hi":1.32},{"g":2,"t":2.08,"v":1.22,"lo":1.1,"hi":1.34},{"g":2,"t":2.15,"v":1.01,"lo":0.89,"hi":1.13},{"g":2,"t":2.25,"v":1.05,"lo":0.93,"hi":1.17},{"g":2,"t":2.34,"v":0.98,"lo":0.86,"hi":1.1},{"g":2,"t":2.43,"v":0.96,"lo":0.86,"hi":1.06},{"g":2,"t":2.57,"v":0.95,"lo":0.85,"hi":1.05},{"g":2,"t":2.66,"v":0.88,"lo":0.78,"hi":0.98},{"g":2,"t":2.74,"v":0.82,"lo":0.72,"hi":0.92},{"g":2,"t":2.83,"v":0.88,"lo":0.78,"hi":0.98},{"g":2,"t":2.92,"v":0.85,"lo":0.75,"hi":0.95},{"g":2,"t":3.03,"v":0.83,"lo":0.73,"hi":0.93},{"g":2,"t":3.15,"v":0.82,"lo":0.72,"hi":0.92},{"g":2,"t":3.24,"v":0.8,"lo":0.7,"hi":0.9},{"g":2,"t":3.36,"v":0.83,"lo":0.73,"hi":0.93},{"g":2,"t":3.44,"v":0.78,"lo":0.68,"hi":0.88},{"g":2,"t":3.55,"v":0.79,"lo":0.71,"hi":0.87},{"g":2,"t":3.64,"v":0.76,"lo":0.68,"hi":0.84},{"g":2,"t":3.75,"v":0.74,"lo":0.66,"hi":0.82},{"g":2,"t":3.84,"v":0.77,"lo":0.69,"hi":0.85},{"g":2,"t":3.96,"v":0.73,"lo":0.65,"hi":0.81},{"g":2,"t":4.07,"v":0.74,"lo":0.66,"hi":0.82},
 {"g":3,"t":4.47,"v":0.74,"lo":0.68,"hi":0.8},{"g":3,"t":4.59,"v":0.72,"lo":0.66,"hi":0.78},{"g":3,"t":4.71,"v":0.7,"lo":0.64,"hi":0.76},{"g":3,"t":4.82,"v":0.74,"lo":0.68,"hi":0.8},{"g":3,"t":4.94,"v":0.76,"lo":0.7,"hi":0.82},{"g":3,"t":5.05,"v":0.7,"lo":0.64,"hi":0.76},{"g":3,"t":5.17,"v":0.72,"lo":0.66,"hi":0.78},{"g":3,"t":5.28,"v":0.7,"lo":0.64,"hi":0.76},{"g":3,"t":5.4,"v":0.72,"lo":0.66,"hi":0.78},{"g":3,"t":5.51,"v":0.7,"lo":0.64,"hi":0.76},{"g":3,"t":5.63,"v":0.69,"lo":0.63,"hi":0.75},{"g":3,"t":5.74,"v":0.73,"lo":0.66,"hi":0.8},{"g":3,"t":5.84,"v":0.76,"lo":0.68,"hi":0.84},{"g":3,"t":5.95,"v":0.8,"lo":0.7,"hi":0.9},{"g":3,"t":6.06,"v":0.82,"lo":0.7,"hi":0.94},{"g":3,"t":6.15,"v":0.88,"lo":0.76,"hi":1.0},{"g":3,"t":6.23,"v":0.89,"lo":0.77,"hi":1.01},{"g":3,"t":6.32,"v":0.96,"lo":0.83,"hi":1.09},{"g":3,"t":6.41,"v":0.98,"lo":0.85,"hi":1.11},{"g":3,"t":6.49,"v":0.99,"lo":0.86,"hi":1.12},{"g":3,"t":6.57,"v":0.93,"lo":0.8,"hi":1.06},{"g":3,"t":6.67,"v":0.95,"lo":0.82,"hi":1.08},{"g":3,"t":6.76,"v":0.88,"lo":0.75,"hi":1.01},{"g":3,"t":6.84,"v":0.92,"lo":0.79,"hi":1.05},{"g":3,"t":6.93,"v":0.96,"lo":0.83,"hi":1.09},{"g":3,"t":7.01,"v":0.92,"lo":0.79,"hi":1.05},{"g":3,"t":7.1,"v":0.9,"lo":0.78,"hi":1.02},{"g":3,"t":7.19,"v":0.9,"lo":0.78,"hi":1.02},{"g":3,"t":7.26,"v":0.9,"lo":0.78,"hi":1.02},{"g":3,"t":7.36,"v":0.91,"lo":0.79,"hi":1.03},{"g":3,"t":7.45,"v":0.9,"lo":0.78,"hi":1.02},{"g":3,"t":7.54,"v":0.91,"lo":0.79,"hi":1.03},{"g":3,"t":7.62,"v":1.02,"lo":0.89,"hi":1.15},{"g":3,"t":7.7,"v":1.03,"lo":0.9,"hi":1.16},{"g":3,"t":7.8,"v":1.02,"lo":0.89,"hi":1.15},{"g":3,"t":7.88,"v":0.98,"lo":0.85,"hi":1.11},{"g":3,"t":7.96,"v":1.02,"lo":0.89,"hi":1.15},{"g":3,"t":8.07,"v":0.99,"lo":0.86,"hi":1.12},{"g":3,"t":8.19,"v":0.97,"lo":0.84,"hi":1.1},{"g":3,"t":8.3,"v":0.95,"lo":0.82,"hi":1.08},{"g":3,"t":8.42,"v":0.92,"lo":0.79,"hi":1.05},{"g":3,"t":8.53,"v":0.9,"lo":0.77,"hi":1.03},{"g":3,"t":8.66,"v":0.88,"lo":0.75,"hi":1.01},
 {"g":4,"t":8.8,"v":1.45,"lo":1.28,"hi":1.62},{"g":4,"t":8.86,"v":1.36,"lo":1.22,"hi":1.5},{"g":4,"t":8.92,"v":1.31,"lo":1.17,"hi":1.45},{"g":4,"t":8.97,"v":1.27,"lo":1.13,"hi":1.41},{"g":4,"t":9.06,"v":1.22,"lo":1.09,"hi":1.35},{"g":4,"t":9.15,"v":1.18,"lo":1.05,"hi":1.31},{"g":4,"t":9.24,"v":1.15,"lo":1.02,"hi":1.28},{"g":4,"t":9.32,"v":1.12,"lo":0.99,"hi":1.25},{"g":4,"t":9.41,"v":1.09,"lo":0.96,"hi":1.22},{"g":4,"t":9.49,"v":1.03,"lo":0.9,"hi":1.16},{"g":4,"t":9.57,"v":1.03,"lo":0.9,"hi":1.16},{"g":4,"t":9.66,"v":1.01,"lo":0.88,"hi":1.14},{"g":4,"t":9.76,"v":1.01,"lo":0.88,"hi":1.14},{"g":4,"t":9.84,"v":0.99,"lo":0.86,"hi":1.12},{"g":4,"t":9.93,"v":0.98,"lo":0.85,"hi":1.11},{"g":4,"t":10.01,"v":0.96,"lo":0.83,"hi":1.09},{"g":4,"t":10.1,"v":0.95,"lo":0.82,"hi":1.08},{"g":4,"t":10.18,"v":0.97,"lo":0.84,"hi":1.1},{"g":4,"t":10.28,"v":0.93,"lo":0.8,"hi":1.06},{"g":4,"t":10.36,"v":0.96,"lo":0.83,"hi":1.09},{"g":4,"t":10.45,"v":0.89,"lo":0.76,"hi":1.02},{"g":4,"t":10.53,"v":0.95,"lo":0.82,"hi":1.08},{"g":4,"t":10.61,"v":0.93,"lo":0.8,"hi":1.06},{"g":4,"t":10.7,"v":0.9,"lo":0.77,"hi":1.03},{"g":4,"t":10.79,"v":0.93,"lo":0.8,"hi":1.06},{"g":4,"t":10.87,"v":0.93,"lo":0.8,"hi":1.06},{"g":4,"t":10.97,"v":0.9,"lo":0.77,"hi":1.03},{"g":4,"t":11.05,"v":0.92,"lo":0.79,"hi":1.05},{"g":4,"t":11.14,"v":0.88,"lo":0.75,"hi":1.01}]},
 "layer":[
  {"mark":{"type":"rule","color":"black","strokeWidth":1.2},
   "encoding":{"x":{"field":"t","type":"quantitative","scale":{"domain":[0,11.18],"range":[49,372],"nice":false,"zero":false},"axis":{"orient":"bottom","offset":-62,"values":[0,10],"format":"d","title":"Time (min)","tickSize":7,"labelPadding":6.5,"titlePadding":-11.5}},
    "y":{"field":"lo","type":"quantitative","scale":{"domain":[0.5,2.0],"range":[837,664],"nice":false,"zero":false},"axis":{"orient":"left","offset":-49,"values":[1,2],"format":"d","title":"EPSC (norm.)","labelPadding":6,"titlePadding":9.5}},"y2":{"field":"hi"}}},
  {"mark":{"type":"line","color":"black","strokeWidth":1.2},"encoding":{"x":{"field":"t","type":"quantitative"},"y":{"field":"v","type":"quantitative"},"detail":{"field":"g"}}},
  {"mark":{"type":"point","shape":"circle","filled":true,"fill":"white","stroke":"black","strokeWidth":1.2,"size":50,"opacity":1},"encoding":{"x":{"field":"t","type":"quantitative"},"y":{"field":"v","type":"quantitative"}}},
  {"data":{"values":[{"x1":5.64,"x2":11.45,"y":2.026}]},"mark":{"type":"rule","color":"black","strokeWidth":6},"encoding":{"x":{"field":"x1","type":"quantitative"},"x2":{"field":"x2"},"y":{"field":"y","type":"quantitative"}}},
  {"data":{"values":[{"x":8.86,"y":2.165,"label":"glycine"}]},"mark":{"type":"text","fontSize":17,"align":"center","baseline":"middle"},"encoding":{"x":{"field":"x","type":"quantitative"},"y":{"field":"y","type":"quantitative"},"text":{"field":"label"}}},
  {"data":{"values":[{"x":-1.176,"y":2.277,"label":"C"}]},"mark":{"type":"text","fontSize":26,"align":"center","baseline":"middle"},"encoding":{"x":{"field":"x","type":"quantitative"},"y":{"field":"y","type":"quantitative"},"text":{"field":"label"}}},
  {"data":{"values":[{"x":-0.035,"y":2.277,"label":"1.5 mM Ca"}]},"mark":{"type":"text","fontSize":20,"align":"left","baseline":"middle"},"encoding":{"x":{"field":"x","type":"quantitative"},"y":{"field":"y","type":"quantitative"},"text":{"field":"label"}}},
  {"data":{"values":[{"x":3.39,"y":2.225,"label":"e"}]},"mark":{"type":"text","fontSize":13,"align":"left","baseline":"middle"},"encoding":{"x":{"field":"x","type":"quantitative"},"y":{"field":"y","type":"quantitative"},"text":{"field":"label"}}},
  {"data":{"values":[{"x":1.63,"y":1.887},{"x":8.72,"y":1.887}]},"mark":{"type":"point","shape":"M-0.55,-1L0.55,-1L0,1Z","filled":true,"color":"black","size":200,"opacity":1},"encoding":{"x":{"field":"x","type":"quantitative"},"y":{"field":"y","type":"quantitative"}}}
 ]},
{"data":{"values":[
 {"s":"control","t":-15.5,"v":1.05,"lo":1.02,"hi":1.08},{"s":"control","t":-10.5,"v":1.01,"lo":0.98,"hi":1.04},{"s":"control","t":-5.5,"v":1.09,"lo":1.01,"hi":1.17},{"s":"control","t":4.5,"v":1.84,"lo":1.64,"hi":2.04},{"s":"control","t":9.5,"v":2.1,"lo":1.85,"hi":2.35},{"s":"control","t":14.5,"v":2.06,"lo":1.91,"hi":2.21},{"s":"control","t":19.5,"v":1.78,"lo":1.63,"hi":1.93},{"s":"control","t":24.5,"v":1.89,"lo":1.69,"hi":2.09},{"s":"control","t":29.5,"v":1.53,"lo":1.33,"hi":1.73},{"s":"control","t":34.5,"v":1.63,"lo":1.38,"hi":1.88},{"s":"control","t":39.5,"v":1.51,"lo":1.31,"hi":1.71},{"s":"control","t":44.5,"v":1.53,"lo":1.33,"hi":1.73},{"s":"control","t":49.5,"v":1.5,"lo":1.25,"hi":1.75},{"s":"control","t":54.5,"v":1.46,"lo":1.26,"hi":1.66},{"s":"control","t":59.5,"v":1.34,"lo":1.24,"hi":1.44},{"s":"control","t":64.5,"v":1.29,"lo":1.14,"hi":1.44},{"s":"control","t":69.5,"v":1.36,"lo":1.24,"hi":1.48},{"s":"control","t":74.5,"v":1.36,"lo":1.21,"hi":1.51},{"s":"control","t":79.5,"v":1.35,"lo":1.15,"hi":1.55},{"s":"control","t":84.5,"v":1.29,"lo":1.14,"hi":1.44},{"s":"control","t":89.5,"v":1.3,"lo":1.1,"hi":1.5},{"s":"control","t":94.5,"v":1.34,"lo":1.14,"hi":1.54},{"s":"control","t":99.5,"v":1.26,"lo":1.06,"hi":1.46},{"s":"control","t":104.5,"v":1.21,"lo":1.06,"hi":1.36},{"s":"control","t":109.5,"v":1.27,"lo":1.07,"hi":1.47},
 {"s":"glycine","t":-15.5,"v":1.0,"lo":0.95,"hi":1.05},{"s":"glycine","t":-10.5,"v":0.94,"lo":0.91,"hi":0.97},{"s":"glycine","t":-5.5,"v":0.96,"lo":0.93,"hi":0.99},{"s":"glycine","t":4.5,"v":1.65,"lo":1.5,"hi":1.8},{"s":"glycine","t":9.5,"v":1.52,"lo":1.37,"hi":1.67},{"s":"glycine","t":14.5,"v":1.45,"lo":1.3,"hi":1.6},{"s":"glycine","t":19.5,"v":1.37,"lo":1.22,"hi":1.52},{"s":"glycine","t":24.5,"v":1.27,"lo":1.15,"hi":1.39},{"s":"glycine","t":29.5,"v":1.31,"lo":1.16,"hi":1.46},{"s":"glycine","t":34.5,"v":1.27,"lo":1.15,"hi":1.39},{"s":"glycine","t":39.5,"v":1.21,"lo":1.09,"hi":1.33},{"s":"glycine","t":44.5,"v":1.09,"lo":1.01,"hi":1.17},{"s":"glycine","t":49.5,"v":1.13,"lo":1.01,"hi":1.25},{"s":"glycine","t":54.5,"v":1.12,"lo":1.02,"hi":1.22},{"s":"glycine","t":59.5,"v":1.1,"lo":1.02,"hi":1.18},{"s":"glycine","t":64.5,"v":1.13,"lo":1.03,"hi":1.23},{"s":"glycine","t":69.5,"v":1.04,"lo":0.96,"hi":1.12},{"s":"glycine","t":74.5,"v":1.09,"lo":1.01,"hi":1.17},{"s":"glycine","t":79.5,"v":1.04,"lo":0.96,"hi":1.12},{"s":"glycine","t":84.5,"v":0.98,"lo":0.93,"hi":1.03},{"s":"glycine","t":89.5,"v":1.08,"lo":0.98,"hi":1.18},{"s":"glycine","t":94.5,"v":1.05,"lo":0.97,"hi":1.13},{"s":"glycine","t":99.5,"v":1.07,"lo":0.97,"hi":1.17},{"s":"glycine","t":104.5,"v":1.0,"lo":0.94,"hi":1.06},{"s":"glycine","t":109.5,"v":1.03,"lo":0.95,"hi":1.11}]},
 "layer":[
  {"mark":{"type":"rule","color":"black","strokeWidth":1.2},
   "encoding":{"x":{"field":"t","type":"quantitative","scale":{"domain":[-20,110],"range":[449,638],"nice":false,"zero":false},"axis":{"orient":"bottom","offset":-55,"values":[0,100],"format":"d","title":"Time (s)","tickSize":7,"labelPadding":6.5,"titlePadding":-16}},
    "y":{"field":"lo","type":"quantitative","scale":{"domain":[0.79,2.29],"range":[844,664],"nice":false,"zero":false},"axis":{"orient":"left","offset":-449,"values":[1,2],"format":"d","title":"EPSC (norm.)","labelPadding":3,"titlePadding":3}},"y2":{"field":"hi"}}},
  {"mark":{"type":"point","shape":"circle","filled":true,"stroke":"black","strokeWidth":1.2,"size":50,"opacity":1},
   "encoding":{"x":{"field":"t","type":"quantitative"},"y":{"field":"v","type":"quantitative"},"fill":{"field":"s","type":"nominal","scale":{"domain":["control","glycine"],"range":["white","black"]},"legend":null}}},
  {"data":{"values":[{"x":75.6,"y":2.24,"s":"control"},{"x":75.6,"y":2.09,"s":"glycine"}]},"mark":{"type":"point","shape":"circle","filled":true,"stroke":"black","strokeWidth":1.2,"size":36,"opacity":1},
   "encoding":{"x":{"field":"x","type":"quantitative"},"y":{"field":"y","type":"quantitative"},"fill":{"field":"s","type":"nominal","legend":null}}},
  {"data":{"values":[{"x":85.9,"y":2.24,"label":"control"},{"x":85.9,"y":2.09,"label":"glycine"}]},"mark":{"type":"text","fontSize":16,"align":"left","baseline":"middle"},"encoding":{"x":{"field":"x","type":"quantitative"},"y":{"field":"y","type":"quantitative"},"text":{"field":"label"}}},
  {"data":{"values":[{"x":1.8,"y":2.173}]},"mark":{"type":"point","shape":"M-0.55,-1L0.55,-1L0,1Z","filled":true,"color":"black","size":200,"opacity":1},"encoding":{"x":{"field":"x","type":"quantitative"},"y":{"field":"y","type":"quantitative"}}}
 ]},
{"data":{"values":[
 {"p":1,"c":0,"v":2.78},{"p":1,"c":1,"v":1.38},{"p":2,"c":0,"v":2.48},{"p":2,"c":1,"v":1.95},{"p":3,"c":0,"v":2.38},{"p":3,"c":1,"v":1.86},{"p":4,"c":0,"v":2.35},{"p":4,"c":1,"v":1.36},{"p":5,"c":0,"v":1.69},{"p":5,"c":1,"v":1.37},{"p":6,"c":0,"v":1.57},{"p":6,"c":1,"v":1.36}]},
 "layer":[
  {"mark":{"type":"line","color":"black","strokeWidth":1.4},
   "encoding":{"x":{"field":"c","type":"quantitative","scale":{"domain":[-0.25,1.2],"range":[713,782],"nice":false,"zero":false},"axis":{"orient":"bottom","offset":-57,"values":[0,1],"labelExpr":"datum.value == 0 ? 'control' : 'glycine'","labelAngle":-90,"ticks":false,"tickSize":0,"domain":false,"labelPadding":4,"title":null}},
    "y":{"field":"v","type":"quantitative","scale":{"domain":[1,3],"range":[842,663],"nice":false,"zero":false},"axis":{"orient":"left","offset":-713,"values":[1,2,3],"format":"d","title":"PTP (norm.)","tickSize":8,"labelPadding":3,"titlePadding":8.5}},"detail":{"field":"p"}}},
  {"mark":{"type":"point","shape":"circle","filled":true,"fill":"white","stroke":"black","strokeWidth":1.2,"size":45,"opacity":1},"encoding":{"x":{"field":"c","type":"quantitative"},"y":{"field":"v","type":"quantitative"}}},
  {"data":{"values":[{"c":0,"lo":2.0,"hi":2.43},{"c":1,"lo":1.43,"hi":1.65}]},"mark":{"type":"rule","color":"black","strokeWidth":1.5},"encoding":{"x":{"field":"c","type":"quantitative"},"y":{"field":"lo","type":"quantitative"},"y2":{"field":"hi"}}},
  {"data":{"values":[{"x1":-0.08,"x2":0.08,"y":2.0},{"x1":-0.08,"x2":0.08,"y":2.43},{"x1":0.92,"x2":1.08,"y":1.43},{"x1":0.92,"x2":1.08,"y":1.65}]},"mark":{"type":"rule","color":"black","strokeWidth":1.5},"encoding":{"x":{"field":"x1","type":"quantitative"},"x2":{"field":"x2"},"y":{"field":"y","type":"quantitative"}}},
  {"data":{"values":[{"c":0,"m":2.21},{"c":1,"m":1.53}]},"mark":{"type":"point","shape":"circle","filled":true,"color":"black","size":60,"opacity":1},"encoding":{"x":{"field":"c","type":"quantitative"},"y":{"field":"m","type":"quantitative"}}},
  {"data":{"values":[{"o":1,"x":0,"y":2.922},{"o":2,"x":0,"y":3.067},{"o":3,"x":1,"y":3.067},{"o":4,"x":1,"y":2.922}]},"mark":{"type":"line","color":"black","strokeWidth":1.4},"encoding":{"x":{"field":"x","type":"quantitative"},"y":{"field":"y","type":"quantitative"},"order":{"field":"o"}}},
  {"data":{"values":[{"x":0.485,"y":3.05,"label":"*"}]},"mark":{"type":"text","fontSize":16,"align":"center","baseline":"alphabetic"},"encoding":{"x":{"field":"x","type":"quantitative"},"y":{"field":"y","type":"quantitative"},"text":{"field":"label"}}}
 ]}
]
}
